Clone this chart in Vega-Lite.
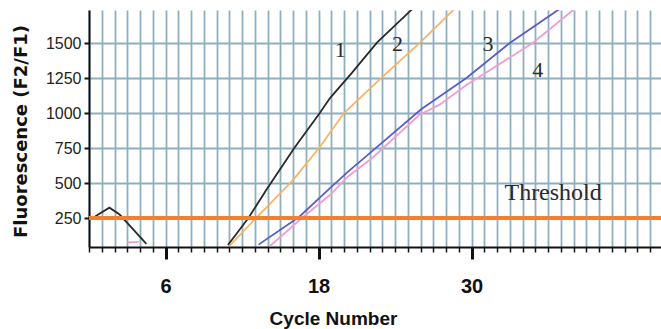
{
  "$schema": "https://vega.github.io/schema/vega-lite/v6.json",
  "autosize": "none",
  "width": 572,
  "height": 237,
  "padding": {"left": 89, "top": 10, "right": 0, "bottom": 82},
  "background": "white",
  "config": {"view": {"stroke": null}},
  "datasets": {
    "curves": [
      {"curve": "1", "seg": "noise", "cycle": 0.5, "f": 262},
      {"curve": "1", "seg": "noise", "cycle": 1.6, "f": 324},
      {"curve": "1", "seg": "noise", "cycle": 2.4, "f": 275},
      {"curve": "1", "seg": "noise", "cycle": 3.5, "f": 165},
      {"curve": "1", "seg": "noise", "cycle": 4.5, "f": 65},
      {"curve": "1", "seg": "main", "cycle": 10.9, "f": 57},
      {"curve": "1", "seg": "main", "cycle": 12.5, "f": 250},
      {"curve": "1", "seg": "main", "cycle": 13.9, "f": 450},
      {"curve": "1", "seg": "main", "cycle": 16.1, "f": 750},
      {"curve": "1", "seg": "main", "cycle": 18.1, "f": 1000},
      {"curve": "1", "seg": "main", "cycle": 18.9, "f": 1107},
      {"curve": "1", "seg": "main", "cycle": 20.6, "f": 1285},
      {"curve": "1", "seg": "main", "cycle": 22.6, "f": 1505},
      {"curve": "1", "seg": "main", "cycle": 25.2, "f": 1730},
      {"curve": "1", "seg": "main", "cycle": 26.0, "f": 1790},
      {"curve": "2", "seg": "main", "cycle": 11.0, "f": 50},
      {"curve": "2", "seg": "main", "cycle": 13.1, "f": 250},
      {"curve": "2", "seg": "main", "cycle": 16.0, "f": 521},
      {"curve": "2", "seg": "main", "cycle": 18.1, "f": 757},
      {"curve": "2", "seg": "main", "cycle": 20.0, "f": 1000},
      {"curve": "2", "seg": "main", "cycle": 22.9, "f": 1250},
      {"curve": "2", "seg": "main", "cycle": 25.9, "f": 1498},
      {"curve": "2", "seg": "main", "cycle": 28.5, "f": 1730},
      {"curve": "2", "seg": "main", "cycle": 29.2, "f": 1790},
      {"curve": "3", "seg": "main", "cycle": 13.3, "f": 60},
      {"curve": "3", "seg": "main", "cycle": 16.5, "f": 259},
      {"curve": "3", "seg": "main", "cycle": 18.9, "f": 463},
      {"curve": "3", "seg": "main", "cycle": 20.3, "f": 580},
      {"curve": "3", "seg": "main", "cycle": 22.3, "f": 735},
      {"curve": "3", "seg": "main", "cycle": 26.1, "f": 1030},
      {"curve": "3", "seg": "main", "cycle": 27.5, "f": 1118},
      {"curve": "3", "seg": "main", "cycle": 29.6, "f": 1250},
      {"curve": "3", "seg": "main", "cycle": 33.0, "f": 1500},
      {"curve": "3", "seg": "main", "cycle": 36.7, "f": 1730},
      {"curve": "3", "seg": "main", "cycle": 37.5, "f": 1780},
      {"curve": "4", "seg": "noise", "cycle": 3.0, "f": 75},
      {"curve": "4", "seg": "noise", "cycle": 3.9, "f": 80},
      {"curve": "4", "seg": "main", "cycle": 14.2, "f": 50},
      {"curve": "4", "seg": "main", "cycle": 16.7, "f": 250},
      {"curve": "4", "seg": "main", "cycle": 18.9, "f": 414},
      {"curve": "4", "seg": "main", "cycle": 20.3, "f": 545},
      {"curve": "4", "seg": "main", "cycle": 22.3, "f": 686},
      {"curve": "4", "seg": "main", "cycle": 25.9, "f": 986},
      {"curve": "4", "seg": "main", "cycle": 27.5, "f": 1060},
      {"curve": "4", "seg": "main", "cycle": 29.6, "f": 1200},
      {"curve": "4", "seg": "main", "cycle": 34.8, "f": 1500},
      {"curve": "4", "seg": "main", "cycle": 37.9, "f": 1730},
      {"curve": "4", "seg": "main", "cycle": 38.7, "f": 1780}
    ],
    "labels": [
      {"text": "1", "cycle": 19.7, "f": 1450, "size": "digit"},
      {"text": "2", "cycle": 24.2, "f": 1493, "size": "digit"},
      {"text": "3", "cycle": 31.3, "f": 1493, "size": "digit"},
      {"text": "4", "cycle": 35.2, "f": 1307, "size": "digit"},
      {"text": "Threshold", "cycle": 36.4, "f": 429, "size": "word"}
    ],
    "threshold": [
      {"f": 250}
    ]
  },
  "layer": [
    {
      "data": {"name": "curves"},
      "mark": {"type": "line", "clip": true, "strokeWidth": 1.8},
      "encoding": {
        "x": {
          "field": "cycle", "type": "quantitative",
          "scale": {"domain": [0, 44.86], "nice": false, "zero": false},
          "axis": {
            "title": "Cycle Number",
            "titleFont": "Liberation Sans", "titleFontSize": 19, "titleFontWeight": "bold", "titleColor": "#111",
            "titleX": 244, "titleY": 77, "titleBaseline": "alphabetic", "titleAlign": "center",
            "values": [0,1,2,3,4,5,6,7,8,9,10,11,12,13,14,15,16,17,18,19,20,21,22,23,24,25,26,27,28,29,30,31,32,33,34,35,36,37,38,39,40,41,42,43,44],
            "tickCount": 200,
            "labelExpr": "(datum.value == 6 || datum.value == 18 || datum.value == 30) ? format(datum.value, 'd') : ''",
            "labelOverlap": false,
            "labelFont": "Liberation Sans", "labelFontSize": 20, "labelFontWeight": "bold", "labelColor": "#111",
            "labelPadding": 17,
            "labelFlush": false,
            "tickColor": "#111",
            "tickSize": 12,
            "tickDash": {"condition": {"test": "datum.value == 6 || datum.value == 18 || datum.value == 30", "value": [12, 0]}, "value": [5, 20]},
            "tickWidth": {"condition": {"test": "datum.value == 6 || datum.value == 18 || datum.value == 30", "value": 3}, "value": 1.5},
            "domainColor": "#111", "domainWidth": 2,
            "grid": true, "gridColor": "#8eafc0", "gridWidth": 1.8
          }
        },
        "y": {
          "field": "f", "type": "quantitative",
          "scale": {"domain": [43, 1736], "nice": false, "zero": false},
          "axis": {
            "title": "Fluorescence (F2/F1)",
            "titleFont": "DejaVu Sans", "titleFontSize": 18, "titleFontWeight": "bold", "titleColor": "#111",
            "titleX": -63, "titleY": 121, "titleBaseline": "alphabetic", "titleAlign": "center",
            "values": [250, 500, 750, 1000, 1250, 1500],
            "format": "d",
            "labelFont": "Liberation Sans",
            "labelFontSize": 16, "labelColor": "#222", "labelPadding": 3,
            "tickColor": "#111", "tickSize": 5, "tickWidth": 2,
            "domainColor": "#111", "domainWidth": 2,
            "grid": true, "gridColor": "#8eafc0", "gridWidth": 1.8
          }
        },
        "color": {
          "field": "curve", "type": "nominal",
          "scale": {"domain": ["1", "2", "3", "4"], "range": ["#2a2a2a", "#f7b464", "#5c5cc8", "#ee9fd0"]},
          "legend": null
        },
        "detail": {"field": "seg"}
      }
    },
    {
      "data": {"name": "threshold"},
      "mark": {"type": "rule", "color": "#f28030", "strokeWidth": 4},
      "encoding": {"y": {"field": "f", "type": "quantitative"}}
    },
    {
      "data": {"name": "labels"},
      "mark": {"type": "text", "font": "Liberation Serif", "color": "#2a2a2a", "align": "center", "baseline": "middle"},
      "encoding": {
        "x": {"field": "cycle", "type": "quantitative"},
        "y": {"field": "f", "type": "quantitative"},
        "text": {"field": "text"},
        "size": {"field": "size", "type": "nominal", "scale": {"domain": ["digit", "word"], "range": [22, 24]}, "legend": null}
      }
    }
  ]
}
